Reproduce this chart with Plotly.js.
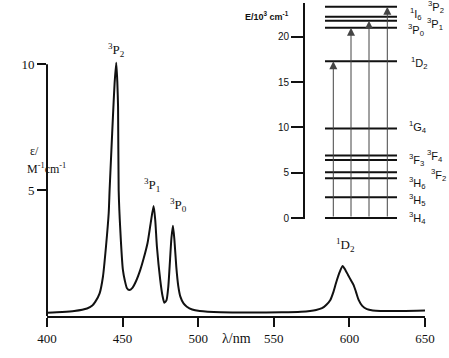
<!DOCTYPE html>
<html>
<head>
<meta charset="utf-8">
<script src="https://cdn.plot.ly/plotly-3.0.1.min.js"></script>
<style>html,body{margin:0;padding:0;background:#fff;}#chart{width:449px;height:358px;}</style>
</head>
<body>
<div id="chart"></div>
<script>
// ---- Absorption spectrum ----
var wavelength = [400, 410, 418, 426.5, 430, 432, 434.8, 437, 439, 440.8, 441.4, 442.6, 443.6, 444.7, 445.8, 446.5, 447.0, 447.4, 448.5, 450.2, 451.5, 452.9, 454.4, 456.5, 459, 461.7, 464, 466.5, 468.6, 470.5, 471.6, 472.7, 474.9, 476.4, 477.6, 479, 480.2, 481.1, 482.3, 483.3, 484.3, 485.5, 486.8, 488.2, 490.3, 492.5, 496, 501, 515, 535, 555, 568, 574, 578, 581.9, 584.8, 587.4, 589.4, 591.1, 593.4, 595.5, 597.4, 599.1, 601.2, 602.8, 604.4, 606.1, 608.5, 611.6, 615.5, 620.4, 635, 650];
var epsilon    = [0.13, 0.16, 0.2, 0.3, 0.42, 0.57, 0.9, 1.56, 2.75, 4.08, 5.0, 6.6, 7.9, 9.24, 10.06, 9.3, 8.3, 5.0, 3.4, 1.83, 1.4, 1.1, 1.03, 1.12, 1.4, 1.83, 2.3, 2.9, 3.7, 4.37, 3.8, 2.75, 1.43, 0.8, 0.53, 0.62, 1.15, 1.96, 3.1, 3.59, 3.0, 1.96, 1.2, 0.77, 0.5, 0.37, 0.26, 0.2, 0.15, 0.14, 0.15, 0.17, 0.2, 0.24, 0.31, 0.45, 0.64, 0.95, 1.3, 1.72, 1.99, 1.82, 1.63, 1.4, 1.23, 0.95, 0.64, 0.4, 0.27, 0.22, 0.2, 0.2, 0.22];
var xTicks = [400, 450, 500, 550, 600, 650];
var yTicks = [5, 10];

// peak labels
var peakLabels = ['<sup>3</sup>P<sub>2</sub>', '<sup>3</sup>P<sub>1</sub>', '<sup>3</sup>P<sub>0</sub>', '<sup>1</sup>D<sub>2</sub>'];

// ---- Energy level inset (10^3 cm^-1) ----
var levelNames  = ['<sup>3</sup>H<sub>4</sub>', '<sup>3</sup>H<sub>5</sub>', '<sup>3</sup>H<sub>6</sub>', '<sup>3</sup>F<sub>2</sub>', '<sup>3</sup>F<sub>3</sub>', '<sup>3</sup>F<sub>4</sub>', '<sup>1</sup>G<sub>4</sub>', '<sup>1</sup>D<sub>2</sub>', '<sup>3</sup>P<sub>0</sub>', '<sup>3</sup>P<sub>1</sub>', '<sup>1</sup>I<sub>6</sub>', '<sup>3</sup>P<sub>2</sub>'];
var levelEnergy = [0, 2.3, 4.4, 5.05, 6.4, 6.9, 9.87, 17.3, 20.98, 21.75, 22.2, 23.3];
var arrowTargets = [17.3, 20.98, 21.75, 23.3];
var energyTicks = [0, 5, 10, 15, 20];

// ---- geometry helpers (pixel -> paper) ----
var W = 449, H = 358, ML = 47, MR = 24, MT = 3, MB = 42;
var PW = W - ML - MR, PH = H - MT - MB;
function fx(px) { return (px - ML) / PW; }
function fy(py) { return (H - MB - py) / PH; }

var serif = 'Liberation Serif, DejaVu Serif, serif';
var sans = 'Liberation Sans, DejaVu Sans, sans-serif';

// level line trace built from the level array
var lvX = [], lvY = [];
levelEnergy.forEach(function (e) { lvX.push(20, 92, null); lvY.push(e, e, null); });

var traces = [
  { x: wavelength, y: epsilon, type: 'scatter', mode: 'lines',
    line: { color: '#111', width: 2, shape: 'spline', smoothing: 0.6 },
    xaxis: 'x', yaxis: 'y', hoverinfo: 'none' },
  { x: lvX, y: lvY, type: 'scatter', mode: 'lines',
    line: { color: '#111', width: 2 }, xaxis: 'x2', yaxis: 'y2', hoverinfo: 'none' }
];

var annotations = [];
// peak label positions (pixels)
var peakPos = [[116, 50], [152, 185], [178, 205], [345, 245]];
peakLabels.forEach(function (t, i) {
  annotations.push({ text: t, xref: 'paper', yref: 'paper', x: fx(peakPos[i][0]), y: fy(peakPos[i][1]),
    showarrow: false, font: { family: serif, size: 13, color: '#111' }, xanchor: 'center', yanchor: 'middle' });
});
// level label positions (pixels)
var levelLabelPos = [[417, 218], [417, 200], [417, 183], [438, 175], [416, 160], [435, 156], [418, 127], [419, 63], [416, 30], [435, 24], [416, 14], [436, 7]];
levelNames.forEach(function (t, i) {
  annotations.push({ text: t, xref: 'paper', yref: 'paper', x: fx(levelLabelPos[i][0]), y: fy(levelLabelPos[i][1]),
    showarrow: false, font: { family: sans, size: 11, color: '#111' }, xanchor: 'center', yanchor: 'middle' });
});
// arrows
var arrowX = [28.3, 46, 64, 82.3];
arrowTargets.forEach(function (e, i) {
  annotations.push({ text: '', xref: 'x2', yref: 'y2', axref: 'x2', ayref: 'y2',
    x: arrowX[i], y: e, ax: arrowX[i], ay: 0, showarrow: true,
    arrowhead: 2, arrowsize: 1.6, arrowwidth: 1, arrowcolor: '#444', standoff: 0 });
});
// axis titles
annotations.push({ text: 'λ/nm', xref: 'paper', yref: 'paper', x: fx(236), y: fy(348), showarrow: false,
  font: { family: serif, size: 14, color: '#111' } });
annotations.push({ text: 'ε/', xref: 'paper', yref: 'paper', x: fx(28), y: fy(151), showarrow: false,
  font: { family: serif, size: 12, color: '#111' } });
annotations.push({ text: 'M<sup>-1</sup>cm<sup>-1</sup>', xref: 'paper', yref: 'paper', x: fx(25), y: fy(168), showarrow: false,
  font: { family: serif, size: 12, color: '#111' } });
annotations.push({ text: '<b>E/10<sup>3</sup> cm<sup>-1</sup></b>', xref: 'paper', yref: 'paper', x: fx(291), y: fy(8),
  xanchor: 'right', showarrow: false, font: { family: sans, size: 9, color: '#111' } });

var layout = {
  width: W, height: H,
  margin: { l: ML, r: MR, t: MT, b: MB, pad: 0 },
  paper_bgcolor: '#fff', plot_bgcolor: 'rgba(0,0,0,0)',
  showlegend: false,
  font: { family: serif, color: '#111' },
  xaxis: { range: [400, 650], domain: [0, 1], anchor: 'y', showline: true, linewidth: 2, linecolor: '#111',
    ticks: 'outside', ticklen: 9, tickwidth: 2, tickcolor: '#111', tickvals: xTicks,
    tickfont: { family: serif, size: 13, color: '#111' }, showgrid: false, zeroline: false },
  yaxis: { range: [0, 12.435], domain: [0, 1], anchor: 'x', showline: false,
    ticks: 'outside', ticklen: 9, tickwidth: 2, tickcolor: '#111', tickvals: yTicks,
    tickfont: { family: serif, size: 13, color: '#111' }, showgrid: false, zeroline: false },
  xaxis2: { domain: [fx(305), 1], range: [0, 120], anchor: 'y2', visible: false },
  yaxis2: { domain: [fy(219.1), 1], range: [-0.12, 23.72], anchor: 'x2', showline: true, linewidth: 2, linecolor: '#111',
    ticks: 'outside', ticklen: 12, tickwidth: 2, tickcolor: '#111', tickvals: energyTicks,
    tickfont: { family: sans, size: 10, color: '#111' }, showgrid: false, zeroline: false },
  shapes: [
    { type: 'line', xref: 'paper', yref: 'y', x0: 0, x1: 0, y0: 0, y1: 10, line: { color: '#111', width: 2 } }
  ],
  annotations: annotations
};

Plotly.newPlot('chart', traces, layout, { staticPlot: true, displayModeBar: false });
</script>
</body>
</html>
